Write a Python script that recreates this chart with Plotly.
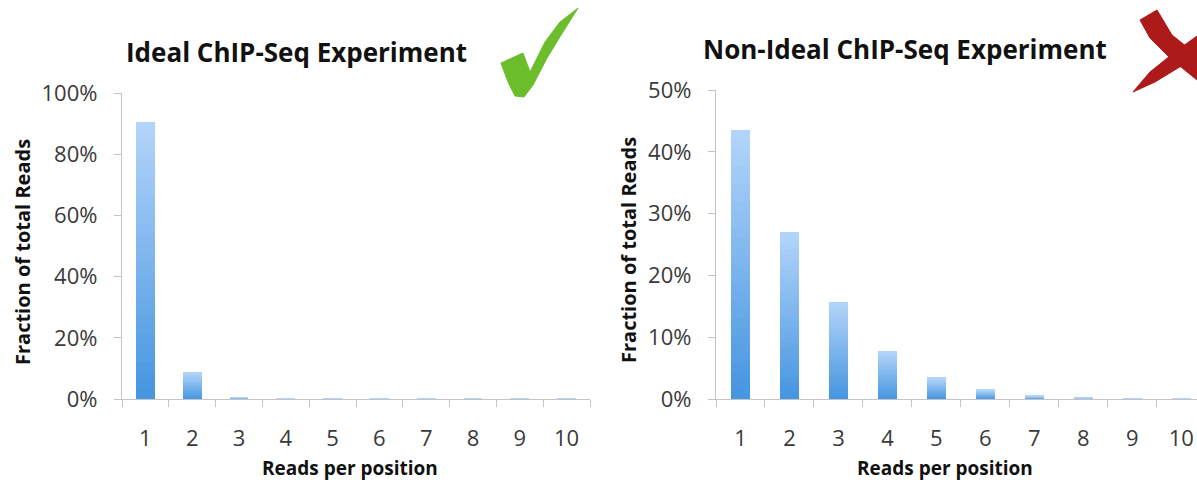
import plotly.graph_objects as go

# Reads-per-position distribution for two ChIP-Seq experiments
categories = ["1", "2", "3", "4", "5", "6", "7", "8", "9", "10"]
ideal_fraction = [0.905, 0.088, 0.005, 0.002, 0.002, 0.002, 0.002, 0.002, 0.002, 0.002]
nonideal_fraction = [0.435, 0.270, 0.157, 0.078, 0.034, 0.015, 0.005, 0.002, 0.001, 0.001]
titles = ["Ideal ChIP-Seq Experiment", "Non-Ideal ChIP-Seq Experiment"]
y_tick_vals_ideal = [0, 0.2, 0.4, 0.6, 0.8, 1.0]
y_tick_vals_nonideal = [0, 0.1, 0.2, 0.3, 0.4, 0.5]

W, H = 1197, 485
FONT = "Open Sans"
TOP_RGB = (178, 212, 250)
BOTTOM_RGB = (70, 150, 224)
N_SEG = 30


def px(x):
    return x / W


def py(y):
    return 1 - y / H


def seg_color(i):
    t = i / (N_SEG - 1)
    r, g, b = (round(BOTTOM_RGB[k] + (TOP_RGB[k] - BOTTOM_RGB[k]) * t) for k in range(3))
    return f"rgb({r},{g},{b})"


fig = go.Figure()

# Each bar is built from thin stacked slices so it fades from dark (base) to light (top)
for axis_id, values in (("", ideal_fraction), ("2", nonideal_fraction)):
    for i in range(N_SEG):
        fig.add_trace(go.Bar(
            x=categories,
            y=[v / N_SEG for v in values],
            marker=dict(color=seg_color(i), line=dict(width=0)),
            xaxis="x" + axis_id,
            yaxis="y" + axis_id,
            showlegend=False,
            hoverinfo="skip",
        ))

axis_common = dict(
    showgrid=False,
    zeroline=False,
    showline=True,
    automargin=False,
    linecolor="#c4c4c4",
    linewidth=1.3,
    ticks="outside",
    tickcolor="#c4c4c4",
    ticklen=7,
    tickfont=dict(family=FONT, size=22, color="#3a3a3a"),
)

fig.update_layout(
    width=W,
    height=H,
    autosize=False,
    margin=dict(l=0, r=0, t=0, b=0, pad=0, autoexpand=False),
    paper_bgcolor="white",
    plot_bgcolor="white",
    barmode="stack",
    bargap=0.6,
    xaxis=dict(
        **axis_common,
        type="category",
        domain=[px(122), px(590)],
        range=[-0.5, 9.5],
        tickson="boundaries",
        ticklabelstandoff=19,
        anchor="y",
    ),
    yaxis=dict(
        **axis_common,
        domain=[py(399), py(93)],
        range=[0, 1.0],
        tickvals=y_tick_vals_ideal,
        tickformat=".0%",
        ticklabelstandoff=12,
        anchor="x",
    ),
    xaxis2=dict(
        **axis_common,
        type="category",
        domain=[px(716), 1.0],
        range=[-0.5, 9.32],
        tickson="boundaries",
        ticklabelstandoff=19,
        anchor="y2",
    ),
    yaxis2=dict(
        **axis_common,
        domain=[py(399), py(90)],
        range=[0, 0.5],
        tickvals=y_tick_vals_nonideal,
        tickformat=".0%",
        ticklabelstandoff=12,
        anchor="x2",
    ),
)

title_font = dict(family=FONT, size=26, color="#111111", weight="bold")
xlabel_font = dict(family=FONT, size=19, color="#111111", weight="bold")
ylabel_font = dict(family=FONT, size=20, color="#111111", weight="bold")

annotations = [
    dict(text=titles[0], x=px(296), y=py(52), font=title_font),
    dict(text=titles[1], x=px(905), y=py(49), font=title_font),
    dict(text="Reads per position", x=px(350), y=py(468), font=xlabel_font),
    dict(text="Reads per position", x=px(945), y=py(468), font=xlabel_font),
    dict(text="Fraction of total Reads", x=px(22), y=py(252), font=ylabel_font, textangle=-90),
    dict(text="Fraction of total Reads", x=px(629), y=py(250), font=ylabel_font, textangle=-90),
]
for a in annotations:
    fig.add_annotation(xref="paper", yref="paper", showarrow=False,
                       xanchor="center", yanchor="middle", **a)


def path(points):
    return "M " + " L ".join(f"{px(x):.4f},{py(y):.4f}" for x, y in points) + " Z"


# Green tick beside the ideal experiment
check = [(501, 63), (523, 53), (530, 72), (545, 42), (560, 22), (578, 8),
         (563, 32), (547, 58), (533, 85), (524, 97), (515, 96), (508, 82)]
# Red cross beside the non-ideal experiment
cross_a = [(1140, 20), (1157, 10), (1172, 35), (1197, 55), (1197, 80), (1170, 58), (1150, 38)]
cross_b = [(1133, 92), (1150, 72), (1175, 52), (1197, 36), (1197, 58), (1178, 68), (1155, 82)]

fig.update_layout(shapes=[
    dict(type="path", xref="paper", yref="paper", path=path(check),
         fillcolor="#6cbd2c", line=dict(color="#6cbd2c", width=1)),
    dict(type="path", xref="paper", yref="paper", path=path(cross_a),
         fillcolor="#ad1a1a", line=dict(color="#ad1a1a", width=1)),
    dict(type="path", xref="paper", yref="paper", path=path(cross_b),
         fillcolor="#ad1a1a", line=dict(color="#ad1a1a", width=1)),
])

fig.write_html("out.html")
